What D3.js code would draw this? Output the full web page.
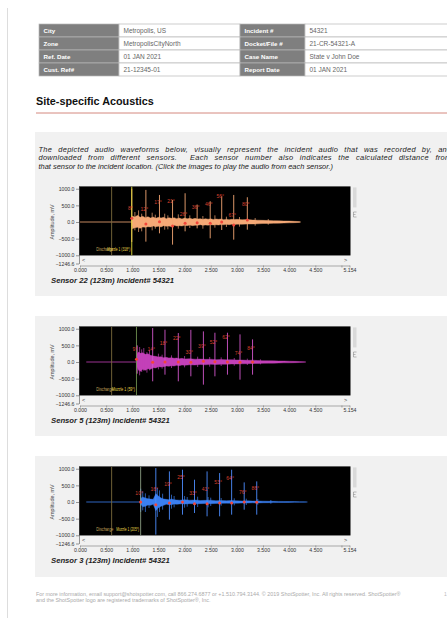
<!DOCTYPE html>
<html>
<head>
<meta charset="utf-8">
<script src="https://cdn.jsdelivr.net/npm/d3@7"></script>
<style>
  html, body { margin: 0; padding: 0; background: #fff; overflow: hidden; }
  svg { display: block; font-family: "Liberation Sans", Arial, sans-serif; }
</style>
</head>
<body>
<svg id="page" width="447" height="618"></svg>
<script>
// ---- report text ----
const tableRows = [
  ['City', 'Metropolis, US', 'Incident #', '54321'],
  ['Zone', 'MetropolisCityNorth', 'Docket/File #', '21-CR-54321-A'],
  ['Ref. Date', '01 JAN 2021', 'Case Name', 'State v John Doe'],
  ['Cust. Ref#', '21-12345-01', 'Report Date', '01 JAN 2021']
]
const heading = 'Site-specific Acoustics'
const introLines = [
  'The depicted audio waveforms below, visually represent the incident audio that was recorded by, and',
  'downloaded from different sensors.  Each sensor number also indicates the calculated distance from',
  'that sensor to the incident location. (Click the images to play the audio from each sensor.)'
]
const footerLines = [
  'For more information, email support@shotspotter.com, call 866.274.6877 or +1.510.794.3144. \u00a9 2019 ShotSpotter, Inc. All rights reserved. ShotSpotter\u00ae',
  'and the ShotSpotter logo are registered trademarks of ShotSpotter\u00ae, Inc.'
]

// ---- chart axes ----
const yTicks = [1000, 500, 0, -500, -1000, -1246.6]
const xTicks = [0, 0.5, 1, 1.5, 2, 2.5, 3, 3.5, 4, 4.5, 5, 5.154]
const dischargeTime = 0.605

// ---- sensor 22 ----
const s22Caption = 'Sensor 22 (123m) Incident# 54321'
const s22MuzzleLabel = 'Muzzle 1 (318\u00b0)'
const s22Start = 0.0
const s22Muzzle = 0.99
// [time s, upper mV, lower mV]
const s22Band = [
  [0.99, 0, 0], [1.00, 180, -200], [1.05, 150, -170], [1.10, 200, -160], [1.15, 140, -190], [1.20, 170, -150],
  [1.25, 130, -160], [1.30, 160, -140], [1.35, 120, -150], [1.40, 150, -120], [1.45, 110, -140],
  [1.50, 140, -130], [1.55, 120, -150], [1.60, 140, -110], [1.65, 100, -130], [1.70, 130, -120],
  [1.75, 110, -140], [1.80, 130, -100], [1.85, 100, -120], [1.90, 120, -110], [1.95, 90, -120],
  [2.00, 120, -100], [2.05, 100, -110], [2.10, 110, -90], [2.15, 90, -110], [2.20, 110, -100],
  [2.25, 90, -100], [2.30, 100, -80], [2.35, 80, -100], [2.40, 100, -90], [2.45, 85, -95],
  [2.50, 95, -80], [2.55, 75, -90], [2.60, 90, -80], [2.65, 80, -90], [2.70, 90, -75],
  [2.75, 70, -85], [2.80, 85, -70], [2.85, 70, -80], [2.90, 80, -70], [2.95, 75, -80],
  [3.00, 80, -65], [3.10, 70, -70], [3.20, 75, -60], [3.30, 60, -60], [3.40, 55, -55],
  [3.50, 50, -45], [3.60, 45, -45], [3.70, 40, -40], [3.80, 35, -35], [3.90, 30, -30],
  [4.00, 28, -25], [4.10, 20, -20], [4.20, 12, -12], [4.22, 0, 0]
]
const s22Minor = [
  [1.05, 300, -250], [1.12, 350, -300], [1.18, 250, -280], [1.38, 280, -250], [1.44, 220, -200],
  [1.62, 250, -230], [1.68, 200, -220], [1.88, 230, -200], [2.10, 200, -180], [2.35, 180, -200],
  [2.58, 200, -170], [2.80, 160, -150], [3.05, 150, -140], [3.35, 120, -110], [3.60, 90, -80]
]
const s22PeakTimes = [0.99, 1.26, 1.52, 1.77, 2.01, 2.24, 2.49, 2.71, 2.94, 3.20]
const s22PeakTops = [1000, 964, 813, 663, 864, 524, 623, 774, 813, 744]
const s22PeakBottoms = [-600, -590, -340, -680, -280, -190, -490, -240, -530, -230]
const s22Angles = ['8\u00b0', '12\u00b0', '17\u00b0', '21\u00b0', '26\u00b0', '36\u00b0', '46\u00b0', '56\u00b0', '67\u00b0', '80\u00b0']
const s22AngleAt = [413, 383, 593, 633, 241, 443, 542, 765, 202, 542]
const s22DotAt = [111, -60, 10, -120, -40, -20, -40, 0, -90, 60]

// ---- sensor 5 ----
const s5Caption = 'Sensor 5 (123m) Incident# 54321'
const s5MuzzleLabel = 'Muzzle 1 (59\u00b0)'
const s5Start = 0.12
const s5Muzzle = 1.08
const s5Band = [
  [1.08, 0, 0], [1.09, 250, -150], [1.12, 300, -250], [1.16, 260, -280], [1.20, 280, -220], [1.25, 230, -250],
  [1.30, 250, -200], [1.35, 200, -220], [1.40, 180, -170], [1.45, 170, -180], [1.50, 150, -140],
  [1.55, 160, -150], [1.60, 130, -140], [1.65, 140, -120], [1.70, 120, -130], [1.75, 130, -110],
  [1.80, 110, -120], [1.85, 120, -100], [1.90, 100, -110], [1.95, 110, -90], [2.00, 90, -100],
  [2.10, 100, -85], [2.20, 85, -90], [2.30, 90, -75], [2.40, 80, -85], [2.50, 85, -70],
  [2.60, 70, -75], [2.70, 75, -65], [2.80, 65, -70], [2.90, 70, -60], [3.00, 60, -60],
  [3.10, 60, -55], [3.20, 50, -50], [3.30, 55, -45], [3.40, 45, -45], [3.50, 40, -40],
  [3.60, 40, -35], [3.70, 35, -35], [3.80, 30, -30], [3.90, 30, -25], [4.00, 25, -25],
  [4.10, 20, -20], [4.20, 15, -15], [4.30, 10, -10], [4.32, 0, 0]
]
const s5Minor = [
  [1.10, 500, -350], [1.14, 450, -400], [1.18, 380, -300], [1.22, 420, -260], [1.28, 300, -320],
  [1.33, 350, -250], [1.50, 250, -220], [1.57, 220, -200], [1.75, 200, -180], [2.00, 180, -160],
  [2.25, 160, -150], [2.48, 150, -140], [2.70, 140, -120], [2.95, 120, -110], [3.20, 100, -90],
  [3.45, 80, -70]
]
const s5PeakTimes = [1.08, 1.39, 1.625, 1.88, 2.12, 2.36, 2.58, 2.82, 3.06, 3.30]
const s5PeakTops = [500, 1020, 970, 870, 966, 920, 880, 880, 830, 680]
const s5PeakBottoms = [-350, -580, -380, -580, -430, -680, -430, -380, -530, -380]
const s5Angles = ['9\u00b0', '14\u00b0', '18\u00b0', '22\u00b0', '30\u00b0', '39\u00b0', '52\u00b0', '62\u00b0', '74\u00b0', '84\u00b0']
const s5AngleAt = [390, 370, 570, 720, 290, 470, 590, 750, 270, 430]
const s5DotAt = [80, -10, 0, 0, -10, 20, 10, 0, -10, 0]

// ---- sensor 3 ----
const s3Caption = 'Sensor 3 (123m) Incident# 54321'
const s3MuzzleLabel = 'Muzzle 1 (205\u00b0)'
const s3Start = 0.12
const s3Muzzle = 1.16
const s3Band = [
  [1.16, 0, 0], [1.17, 120, -80], [1.20, 150, -140], [1.25, 120, -130], [1.30, 100, -90], [1.35, 90, -100],
  [1.40, 80, -70], [1.45, 250, -260], [1.50, 180, -170], [1.55, 120, -130], [1.60, 90, -100],
  [1.65, 80, -70], [1.70, 70, -80], [1.75, 90, -80], [1.80, 70, -60], [1.85, 60, -70],
  [1.90, 55, -60], [1.95, 60, -55], [2.00, 70, -60], [2.10, 55, -50], [2.20, 60, -55],
  [2.30, 45, -50], [2.40, 50, -45], [2.50, 55, -50], [2.60, 40, -45], [2.70, 45, -40],
  [2.80, 40, -35], [2.90, 45, -40], [3.00, 35, -35], [3.10, 30, -30], [3.20, 35, -30],
  [3.30, 28, -25], [3.40, 30, -28], [3.50, 25, -22], [3.60, 22, -20], [3.70, 20, -18],
  [3.80, 18, -16], [3.90, 16, -15], [4.00, 14, -12], [4.10, 12, -10], [4.20, 10, -9],
  [4.30, 8, -7], [4.35, 0, 0]
]
const s3Minor = [
  [1.20, 320, -250], [1.25, 260, -300], [1.32, 200, -180], [1.48, 420, -450], [1.52, 350, -300],
  [1.58, 250, -230], [1.75, 220, -200], [1.80, 180, -160], [2.00, 180, -170], [2.05, 150, -140],
  [2.25, 160, -150], [2.45, 150, -160], [2.50, 130, -120], [2.70, 120, -110], [2.95, 110, -100],
  [3.18, 100, -90], [3.40, 90, -80], [3.65, 60, -50]
]
const s3PeakTimes = [1.16, 1.45, 1.71, 1.96, 2.19, 2.43, 2.67, 2.90, 3.14, 3.38]
const s3PeakTops = [400, 1020, 920, 970, 670, 920, 870, 970, 590, 620]
const s3PeakBottoms = [-300, -980, -530, -380, -330, -430, -430, -380, -230, -380]
const s3Angles = ['10\u00b0', '16\u00b0', '19\u00b0', '25\u00b0', '33\u00b0', '41\u00b0', '53\u00b0', '64\u00b0', '76\u00b0', '86\u00b0']
const s3AngleAt = [270, 370, 540, 740, 270, 390, 590, 720, 300, 420]
const s3DotAt = [0, -80, -30, 0, -50, -50, -30, -30, 0, -10]

const sensors = [
  { caption: s22Caption, muzzleLabel: s22MuzzleLabel, start: s22Start, muzzle: s22Muzzle, band: s22Band, minor: s22Minor,
    times: s22PeakTimes, tops: s22PeakTops, bottoms: s22PeakBottoms, angles: s22Angles, angleAt: s22AngleAt, dotAt: s22DotAt,
    wave: '#f5a977', spike: '#f3a673', cursor: '#e6e03c' },
  { caption: s5Caption, muzzleLabel: s5MuzzleLabel, start: s5Start, muzzle: s5Muzzle, band: s5Band, minor: s5Minor,
    times: s5PeakTimes, tops: s5PeakTops, bottoms: s5PeakBottoms, angles: s5Angles, angleAt: s5AngleAt, dotAt: s5DotAt,
    wave: '#c340b8', spike: '#d257cc', cursor: '#6d8f4e' },
  { caption: s3Caption, muzzleLabel: s3MuzzleLabel, start: s3Start, muzzle: s3Muzzle, band: s3Band, minor: s3Minor,
    times: s3PeakTimes, tops: s3PeakTops, bottoms: s3PeakBottoms, angles: s3Angles, angleAt: s3AngleAt, dotAt: s3DotAt,
    wave: '#3b7ff0', spike: '#4d8dff', cursor: '#8a9c82' }
]

const page = d3.select('#page')

// left margin rule
page.append('line').attr('x1', 7.5).attr('x2', 7.5).attr('y1', 8).attr('y2', 618)
  .attr('stroke', '#d4d4d4').attr('stroke-width', 0.8)

// header table
const colX = [39, 119, 240, 305, 480]
const rowTop = 24, rowH = 13
tableRows.forEach((row, i) => {
  row.forEach((txt, j) => {
    const isLabel = j % 2 === 0
    page.append('rect')
      .attr('x', colX[j]).attr('y', rowTop + i * rowH)
      .attr('width', colX[j + 1] - colX[j]).attr('height', rowH)
      .attr('fill', isLabel ? '#7f7f7f' : '#fff')
      .attr('stroke', '#b8b8b8').attr('stroke-width', 0.7)
    page.append('text')
      .attr('x', colX[j] + 4.5).attr('y', rowTop + i * rowH + 8.7)
      .attr('font-size', isLabel ? 6.2 : 6.5)
      .attr('font-weight', isLabel ? 'bold' : 'normal')
      .attr('fill', isLabel ? '#fff' : '#666')
      .text(txt)
  })
})

// heading and rule
page.append('text').attr('x', 36).attr('y', 104.5)
  .attr('font-size', 10.8).attr('font-weight', 'bold').attr('fill', '#111')
  .text(heading)
page.append('line').attr('x1', 36).attr('x2', 447).attr('y1', 113).attr('y2', 113)
  .attr('stroke', '#c96a5e').attr('stroke-width', 0.8)

// grey panels
const panels = [[132, 296], [316, 436], [456, 577]]
page.selectAll('rect.panel').data(panels).enter().append('rect')
  .attr('class', 'panel')
  .attr('x', 35).attr('y', d => d[0]).attr('width', 420).attr('height', d => d[1] - d[0])
  .attr('fill', '#f1f1f1')

// intro paragraph: justified (a little letter spacing, the rest in the word gaps), last line ragged
const introWidth = 413
introLines.forEach((line, i) => {
  const t = page.append('text').attr('x', 38.5).attr('y', 151.5 + i * 8.6)
    .attr('font-size', 7.45).attr('font-style', 'italic').attr('fill', '#222')
    .attr('xml:space', 'preserve')
    .text(line)
  if (i < introLines.length - 1) {
    t.attr('letter-spacing', 0.3)
    const gaps = line.split(' ').length - 1
    const extra = (introWidth - t.node().getComputedTextLength()) / gaps
    t.attr('word-spacing', Math.max(0, extra))
  }
})

// footer
footerLines.forEach((line, i) => {
  page.append('text').attr('x', 36).attr('y', 596 + i * 6.4)
    .attr('font-size', 5.4).attr('fill', '#aaa')
    .text(line)
})
page.append('text').attr('x', 444).attr('y', 596).attr('font-size', 5).attr('fill', '#bbb').text('1')

const zeroLines = [222, 362, 502]

const drawSensor = (s, Z, idx) => {
  const g = page.append('g')
  const x = d3.scaleLinear().domain([0, 5.154]).range([80, 349.5])
  const y = d3.scaleLinear().domain([-1246.6, 1070]).range([Z + 41.5, Z - 35.6])

  const plotTop = y(1070), plotBottom = y(-1005)

  g.append('rect').attr('x', 79).attr('y', plotTop)
    .attr('width', 350.5 - 79).attr('height', plotBottom - plotTop)
    .attr('fill', '#000')

  g.append('clipPath').attr('id', 'clip' + idx)
    .append('rect').attr('x', 79).attr('y', plotTop)
    .attr('width', 350.5 - 79).attr('height', plotBottom - plotTop)

  const plot = g.append('g').attr('clip-path', `url(#clip${idx})`)

  // flat pre-trigger trace
  plot.append('line')
    .attr('x1', x(s.start)).attr('x2', x(s.muzzle))
    .attr('y1', y(0)).attr('y2', y(0))
    .attr('stroke', s.wave).attr('stroke-width', 0.8)

  // noise band
  const area = d3.area().x(d => x(d[0])).y0(d => y(d[2])).y1(d => y(d[1]))
  plot.append('path').datum(s.band).attr('d', area)
    .attr('fill', s.wave).attr('stroke', s.wave).attr('stroke-width', 0.4)

  // secondary spikes
  plot.selectAll('line.minor').data(s.minor).enter().append('line')
    .attr('class', 'minor')
    .attr('x1', d => x(d[0])).attr('x2', d => x(d[0]))
    .attr('y1', d => y(d[1])).attr('y2', d => y(d[2]))
    .attr('stroke', s.wave).attr('stroke-width', 0.7)

  // main impulse spikes
  plot.selectAll('line.peak').data(s.times).enter().append('line')
    .attr('class', 'peak')
    .attr('x1', d => x(d)).attr('x2', d => x(d))
    .attr('y1', (d, i) => y(s.tops[i])).attr('y2', (d, i) => y(s.bottoms[i]))
    .attr('stroke', s.spike).attr('stroke-width', 0.9)

  // cursors
  plot.append('line').attr('x1', x(dischargeTime)).attr('x2', x(dischargeTime))
    .attr('y1', plotTop).attr('y2', plotBottom)
    .attr('stroke', '#7b6a3c').attr('stroke-width', 0.9)
  plot.append('line').attr('x1', x(s.muzzle)).attr('x2', x(s.muzzle))
    .attr('y1', plotTop).attr('y2', plotBottom)
    .attr('stroke', s.cursor).attr('stroke-width', 0.9)

  // detection markers
  plot.selectAll('circle.dot').data(s.times).enter().append('circle')
    .attr('class', 'dot')
    .attr('cx', d => x(d)).attr('cy', (d, i) => y(s.dotAt[i]))
    .attr('r', 1.5).attr('fill', '#f2453a')

  plot.selectAll('text.angle').data(s.angles).enter().append('text')
    .attr('class', 'angle')
    .attr('x', (d, i) => x(s.times[i]) - 1.5).attr('y', (d, i) => y(s.angleAt[i]) + 1.8)
    .attr('text-anchor', 'middle').attr('font-size', 5)
    .attr('fill', '#d8402f')
    .text(d => d)

  // cursor labels (the muzzle label sits over the tail of the discharge label, as in the original)
  plot.append('text').attr('x', x(dischargeTime) + 1.7).attr('y', Z + 29)
    .attr('text-anchor', 'end').attr('font-size', 5)
    .attr('textLength', 17).attr('lengthAdjust', 'spacingAndGlyphs')
    .attr('fill', '#c2a35a').text('Discharge')
  plot.append('text').attr('x', x(s.muzzle) - 1.5).attr('y', Z + 29)
    .attr('text-anchor', 'end').attr('font-size', 5)
    .attr('textLength', 23).attr('lengthAdjust', 'spacingAndGlyphs')
    .attr('fill', '#e8d84a').text(s.muzzleLabel)

  // axes
  const yAxis = g.append('g').attr('transform', 'translate(79,0)')
    .call(d3.axisLeft(y).tickValues(yTicks).tickFormat(d3.format('.1f')).tickSize(3).tickSizeOuter(0).tickPadding(1.5))
  yAxis.attr('font-family', null).attr('font-size', 5.2)
  yAxis.selectAll('text').attr('fill', '#333')
  yAxis.selectAll('line, path').attr('stroke', '#555').attr('stroke-width', 0.6)

  const xAxis = g.append('g').attr('transform', `translate(0,${Z + 43.5})`)
    .call(d3.axisBottom(x).tickValues(xTicks)
      .tickFormat(d => d === 5 ? '' : d3.format('.3f')(d))
      .tickSize(2).tickSizeOuter(0).tickPadding(1))
  xAxis.attr('font-family', null).attr('font-size', 5.2)
  xAxis.selectAll('text').attr('fill', '#333')
  xAxis.selectAll('line, path').attr('stroke', '#777').attr('stroke-width', 0.6)

  // scroll arrows
  g.append('text').attr('x', 82).attr('y', Z + 40).attr('font-size', 5.5).attr('fill', '#444').text('<')
  g.append('text').attr('x', 344).attr('y', Z + 40).attr('font-size', 5.5).attr('fill', '#444').text('>')

  // y label
  g.append('text')
    .attr('transform', `translate(53.5,${Z}) rotate(-90)`)
    .attr('text-anchor', 'middle').attr('font-size', 5.4).attr('fill', '#444')
    .text('Amplitude, mV')

  // side widget
  g.append('rect').attr('x', 353).attr('y', plotTop + 1).attr('width', 3.5).attr('height', 20)
    .attr('fill', '#d9d9d9')
  g.append('path')
    .attr('d', `M356.5,${Z - 10} h-3 v5 h3 M353.5,${Z - 7.5} h2`)
    .attr('fill', 'none').attr('stroke', '#777').attr('stroke-width', 0.5)

  // caption
  g.append('text').attr('x', 51).attr('y', Z + 61)
    .attr('font-size', 7.7).attr('font-weight', 'bold').attr('font-style', 'italic').attr('fill', '#222')
    .text(s.caption)
}

sensors.forEach((s, i) => drawSensor(s, zeroLines[i], i))
</script>
</body>
</html>
